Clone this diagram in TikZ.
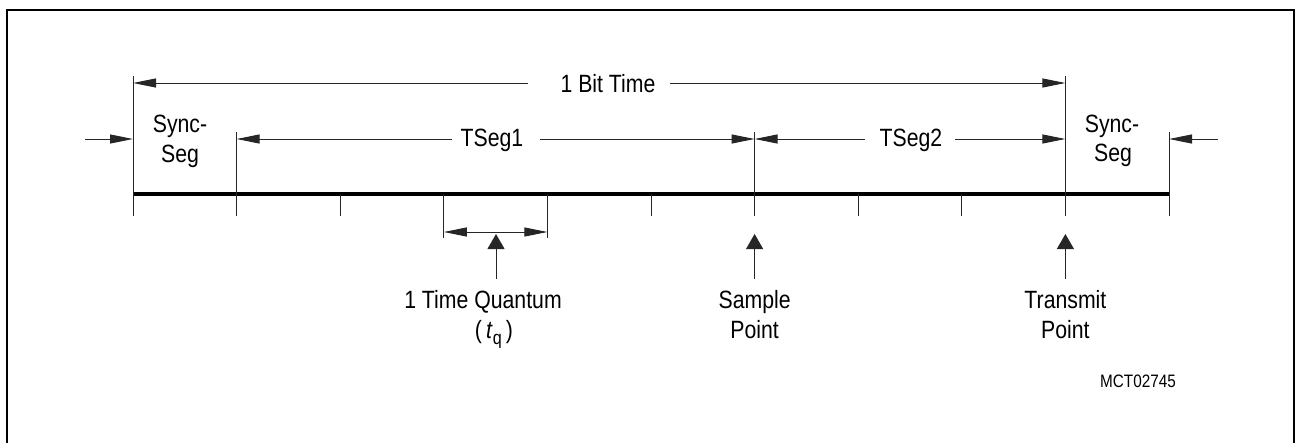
\documentclass[tikz,border=0pt]{standalone}
\usepackage{fontspec}
\setmainfont[FakeStretch=0.85]{Liberation Sans}
\usetikzlibrary{arrows.meta}
\begin{document}
\begin{tikzpicture}[x=1pt,y=-1pt,
  thinline/.style={line width=1pt, black!85},
  harr/.style={-{Triangle[length=23pt,width=9pt]}, thinline},
  uparr/.style={-{Triangle[length=15pt,width=17pt]}, thinline},
  lbl/.style={font=\fontsize{25}{30}\selectfont, inner sep=0pt, anchor=base},
  small/.style={font=\fontsize{18}{22}\selectfont, inner sep=0pt, anchor=base},
]
\useasboundingbox (0,0) rectangle (1298,442);
% frame
\draw[line width=2pt] (7,470) -- (7,10) -- (1294,10) -- (1294,470);

% tick coordinates on the base line
\foreach \i in {0,...,10} {
  \coordinate (t\i) at ({133+103.6*\i},194);
}
% level coordinates
\coordinate (ybit) at (0,83);
\coordinate (yseg) at (0,139);
\coordinate (ytop) at (0,76);
\coordinate (ymid) at (0,132);
\coordinate (ybot) at (0,216);
\coordinate (yq) at (0,238);
\coordinate (yqa) at (0,232);
\coordinate (yup) at (0,279);
\coordinate (ytip) at (0,234);

% base line
\draw[line width=4pt] (t0) -- (t10);

% ticks
\foreach \i in {2,5,7,8} { \draw[thinline] (t\i) -- (t\i |- ybot); }
\foreach \i in {0,9} { \draw[thinline] (t\i |- ytop) -- (t\i |- ybot); }
\foreach \i in {1,6,10} { \draw[thinline] (t\i |- ymid) -- (t\i |- ybot); }
\foreach \i in {3,4} { \draw[thinline] (t\i) -- (t\i |- yq); }

% labels
\node[lbl] (bit) at (608,92) {1 Bit Time};
\node[lbl] (ts1) at (492,146) {TSeg1};
\node[lbl] (ts2) at (911,146) {TSeg2};
\node[lbl] (syncL1) at (180,132) {Sync-};
\node[lbl] (syncL2) at (180,162) {Seg};
\node[lbl] (syncR1) at (1112,132) {Sync-};
\node[lbl] (syncR2) at (1113,161) {Seg};
\node[lbl] (samp1) at (754.6,308) {Sample};
\node[lbl] (samp2) at (754.6,338) {Point};
\node[lbl] (trans1) at (1065.4,308) {Transmit};
\node[lbl] (trans2) at (1065.4,338) {Point};
\node[lbl] (tq1) at (483,308) {1 Time Quantum};
\node[lbl] (tq2) at (494,338) {(\,\textit{t}\raisebox{-6pt}{\fontsize{19}{22}\selectfont q}\,)};
\node[small] (code) at (1138,387) {MCT02745};

% gap coordinates next to the labels
\coordinate (bitL) at (528,83);
\coordinate (bitR) at (670,83);
\coordinate (ts1L) at (452,139);
\coordinate (ts1R) at (540,139);
\coordinate (ts2L) at (865,139);
\coordinate (ts2R) at (955,139);
\coordinate (outL) at (85,139);
\coordinate (outR) at (1218,139);
\coordinate (qmid) at (496,232);
\coordinate (qup) at (496,279);

% dimension arrows
\draw[harr] (bitL) -- (t0 |- ybit);
\draw[harr] (bitR) -- (t9 |- ybit);
\draw[harr] (ts1L) -- (t1 |- yseg);
\draw[harr] (ts1R) -- (t6 |- yseg);
\draw[harr] (ts2L) -- (t6 |- yseg);
\draw[harr] (ts2R) -- (t9 |- yseg);
\draw[harr] (outL) -- (t0 |- yseg);
\draw[harr] (outR) -- (t10 |- yseg);
\draw[harr] (qmid) -- (t3 |- yqa);
\draw[harr] (qmid) -- (t4 |- yqa);

% pointer arrows
\draw[uparr] (qup) -- (qmid |- ytip);
\draw[uparr] (t6 |- yup) -- (t6 |- ytip);
\draw[uparr] (t9 |- yup) -- (t9 |- ytip);
\end{tikzpicture}
\end{document}
